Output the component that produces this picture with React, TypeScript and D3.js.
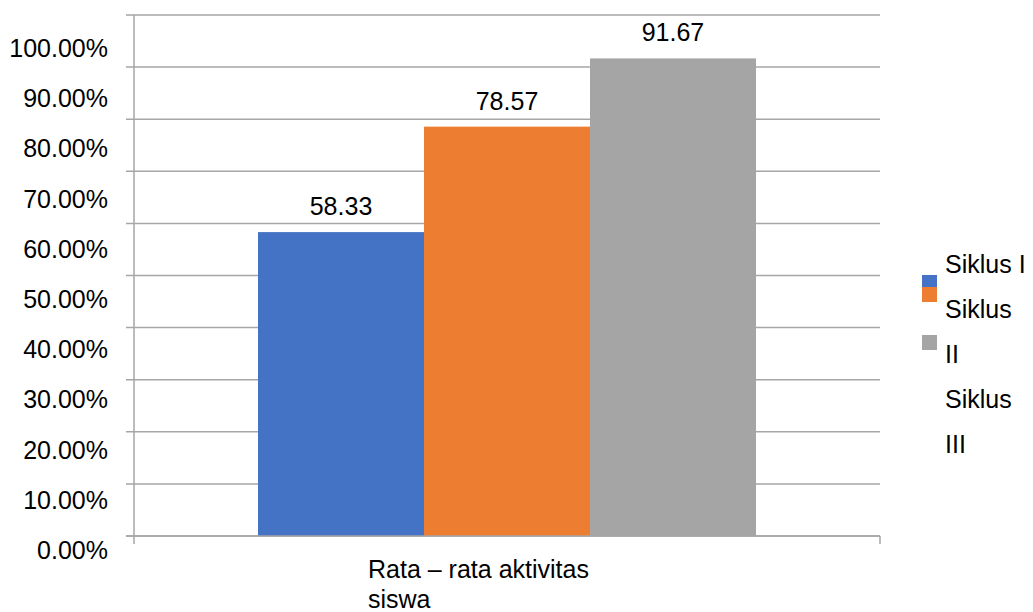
import React from "react";
import * as d3 from "d3";

const categories = ["Rata – rata aktivitas siswa"];
const categoryLines = ["Rata – rata aktivitas", "siswa"];
const series = ["Siklus I", "Siklus II", "Siklus III"];
const values = [58.33, 78.57, 91.67];
const colors = ["#4472C4", "#ED7D31", "#A5A5A5"];
const gridTicks = [0, 10, 20, 30, 40, 50, 60, 70, 80, 90, 100];
const legendLines = ["Siklus I", "Siklus", "II", "Siklus", "III"];

const W = 1033;
const H = 612;
const FONT = "Liberation Sans, Arial, sans-serif";

export default function App() {
  const left = 134;
  const right = 880;
  const top = 15;
  const bottom = 536;

  const y = d3.scaleLinear().domain([0, 100]).range([bottom, top]);
  // tick labels are laid out on their own rhythm in the reference
  const yLabel = d3.scaleLinear().domain([0, 100]).range([559, 57]);
  const x0 = d3.scaleBand<string>().domain(categories).range([left, right]);
  const x1 = d3
    .scaleBand<string>()
    .domain(series)
    .range([0, x0.bandwidth()])
    .paddingInner(0)
    .paddingOuter(0.747);
  const legendY = d3.scaleLinear().domain([0, 1]).range([273, 318]);

  const gridColor = "#a6a6a6";

  return (
    <svg
      width={W}
      height={H}
      style={{ position: "absolute", left: 0, top: 0, background: "#fff" }}
      fontFamily={FONT}
    >
      <rect width={W} height={H} fill="#fff" />
      {gridTicks.map((t) => (
        <line
          key={"g" + t}
          x1={126}
          x2={right}
          y1={y(t)}
          y2={y(t)}
          stroke={gridColor}
          strokeWidth={1.5}
        />
      ))}
      {gridTicks.map((t) => (
        <text
          key={"l" + t}
          x={108}
          y={yLabel(t)}
          textAnchor="end"
          fontSize={25}
          fill="#000"
        >
          {t.toFixed(2) + "%"}
        </text>
      ))}
      {categories.map((c) => (
        <g key={c}>
          {series.map((s, i) => {
            const bx = (x0(c) as number) + (x1(s) as number);
            return (
              <g key={s}>
                <rect
                  x={bx}
                  y={y(values[i])}
                  width={x1.bandwidth()}
                  height={y(0) - y(values[i])}
                  fill={colors[i]}
                />
                <text
                  x={bx + x1.bandwidth() / 2}
                  y={y(values[i]) - 17}
                  textAnchor="middle"
                  fontSize={25}
                  fill="#000"
                >
                  {values[i].toFixed(2)}
                </text>
              </g>
            );
          })}
        </g>
      ))}
      <line x1={left} x2={left} y1={top} y2={544} stroke={gridColor} strokeWidth={1.5} />
      <line x1={126} x2={right} y1={bottom} y2={bottom} stroke={gridColor} strokeWidth={1.5} />
      <line x1={right} x2={right} y1={bottom} y2={544} stroke={gridColor} strokeWidth={1.5} />
      {categoryLines.map((l, i) => (
        <text key={l} x={368} y={578 + i * 30} fontSize={25} fill="#000">
          {l}
        </text>
      ))}
      <rect x={922} y={275} width={15} height={14} fill={colors[0]} />
      <rect x={922} y={287} width={15} height={15} fill={colors[1]} />
      <rect x={922} y={335} width={15} height={15} fill={colors[2]} />
      {legendLines.map((l, i) => (
        <text key={i} x={945} y={legendY(i)} fontSize={25} fill="#000">
          {l}
        </text>
      ))}
    </svg>
  );
}
